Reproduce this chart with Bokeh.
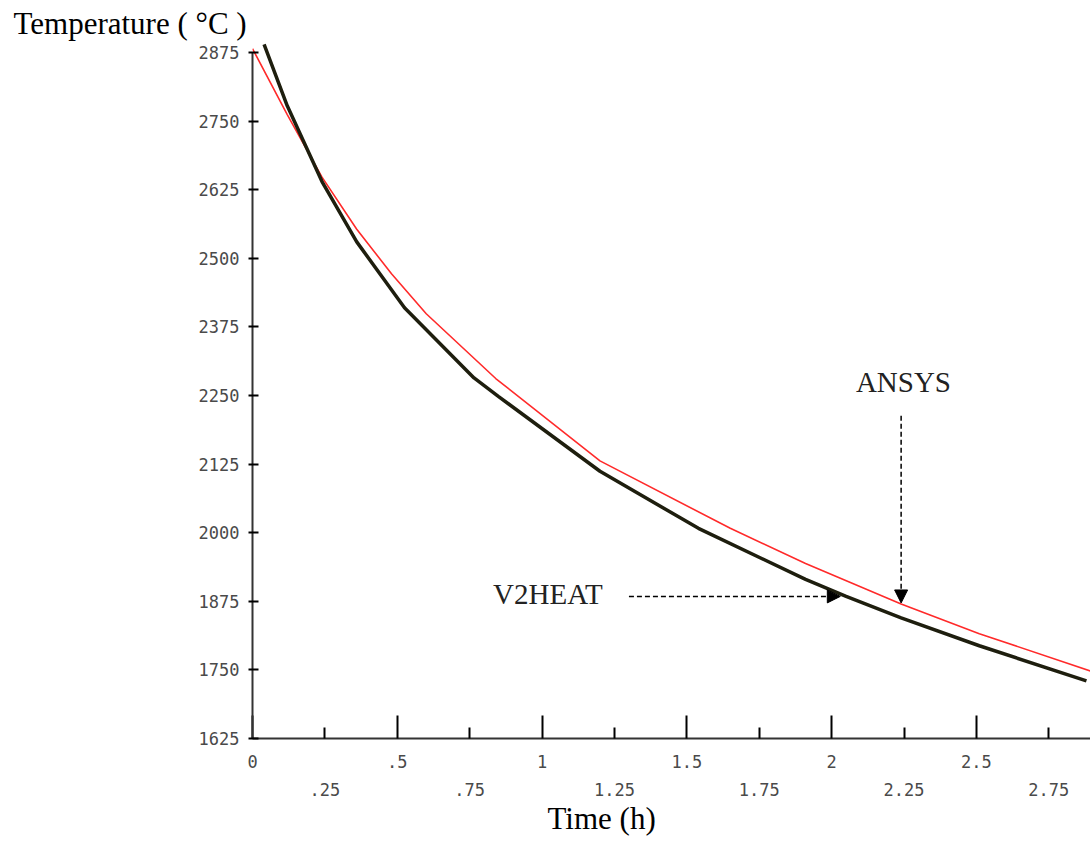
from bokeh.plotting import figure
from bokeh.models import Range1d, LinearAxis, FixedTicker, Label, Arrow, NormalHead, Title
from bokeh.embed import file_html
from bokeh.resources import INLINE

# Cooling curves: time in hours, temperature in degrees C
v2heat_time = [0.04, 0.12, 0.24, 0.36, 0.525, 0.765, 0.85, 1.2, 1.54, 1.91, 2.05, 2.24, 2.51, 2.88]
v2heat_temp = [2890, 2778, 2640, 2530, 2410, 2282, 2248, 2112, 2008, 1915, 1884, 1845, 1794, 1730]

ansys_time = [0.0, 0.12, 0.24, 0.36, 0.48, 0.6, 0.84, 1.2, 1.65, 1.91, 2.24, 2.51, 2.9]
ansys_temp = [2882, 2762, 2648, 2553, 2472, 2399, 2281, 2131, 2008, 1944, 1870, 1816, 1747]

y_ticks = [1625, 1750, 1875, 2000, 2125, 2250, 2375, 2500, 2625, 2750, 2875]
x_ticks_upper = [0, 0.5, 1, 1.5, 2, 2.5]
x_labels_upper = ["0", ".5", "1", "1.5", "2", "2.5"]
x_ticks_lower = [0.25, 0.75, 1.25, 1.75, 2.25, 2.75]
x_labels_lower = [".25", ".75", "1.25", "1.75", "2.25", "2.75"]

TICK_FONT = "DejaVu Sans Mono"
SERIF = "Liberation Serif"

p = figure(width=1090, height=850,
           x_range=Range1d(0, 2.894), y_range=Range1d(1625, 2897),
           output_backend="svg", toolbar_location=None,
           x_axis_location=None, y_axis_location=None,
           min_border_left=252, min_border_right=0,
           min_border_top=40, min_border_bottom=112,
           outline_line_color=None, background_fill_color="white",
           border_fill_color="white")
p.grid.grid_line_color = None

# y-axis title across the top-left corner
p.title = Title(text="Temperature ( \u00b0C )", align="left", offset=-239,
                standoff=0, text_font=SERIF, text_font_size="31px",
                text_font_style="normal", text_color="black")

# vertical axis
yaxis = LinearAxis(ticker=FixedTicker(ticks=y_ticks), bounds=(1625, 2875),
                   axis_line_color="#333333", axis_line_width=2,
                   major_tick_line_color="black", major_tick_line_width=2,
                   major_tick_in=6, major_tick_out=4,
                   minor_tick_in=0, minor_tick_out=0,
                   major_label_text_font=TICK_FONT,
                   major_label_text_font_size="17px",
                   major_label_text_color="#4a4a4a",
                   major_label_standoff=9)
p.add_layout(yaxis, "left")

# horizontal axis: half-hour ticks labelled, quarter ticks shorter
xaxis = LinearAxis(ticker=FixedTicker(ticks=x_ticks_upper, minor_ticks=x_ticks_lower),
                   major_label_overrides=dict(zip(x_ticks_upper, x_labels_upper)),
                   axis_line_color="#333333", axis_line_width=2,
                   major_tick_line_color="black", major_tick_line_width=2,
                   major_tick_in=23, major_tick_out=0,
                   minor_tick_line_color="black", minor_tick_line_width=2,
                   minor_tick_in=11, minor_tick_out=0,
                   major_label_text_font=TICK_FONT,
                   major_label_text_font_size="17px",
                   major_label_text_color="#4a4a4a",
                   major_label_standoff=16)
p.add_layout(xaxis, "below")

# second row of labels for the quarter-hour ticks
xaxis2 = LinearAxis(ticker=FixedTicker(ticks=x_ticks_lower),
                    major_label_overrides=dict(zip(x_ticks_lower, x_labels_lower)),
                    axis_line_color=None, major_tick_line_color=None,
                    minor_tick_line_color=None,
                    major_tick_in=0, major_tick_out=0,
                    minor_tick_in=0, minor_tick_out=0,
                    major_label_text_font=TICK_FONT,
                    major_label_text_font_size="17px",
                    major_label_text_color="#4a4a4a",
                    major_label_standoff=12)
p.add_layout(xaxis2, "below")

# x-axis title
p.add_layout(Title(text="Time (h)", align="left", offset=295, standoff=0,
                   text_font=SERIF, text_font_size="31px",
                   text_font_style="normal", text_color="black"), "below")

# curves
p.line(ansys_time, ansys_temp, line_color="#ff2a2a", line_width=1.6)
p.line(v2heat_time, v2heat_temp, line_color="#1e1e0e", line_width=3.5)

# callouts
p.add_layout(Arrow(end=NormalHead(size=13, fill_color="black", line_color="black"),
                   x_start=1.30, y_start=1884, x_end=2.03, y_end=1884,
                   line_color="black", line_width=1.5, line_dash="5 3"))
p.add_layout(Label(x=1.02, y=1889, text="V2HEAT", text_align="center",
                   text_baseline="middle", text_font=SERIF,
                   text_font_size="29px", text_color="#222222"))

p.add_layout(Arrow(end=NormalHead(size=13, fill_color="black", line_color="black"),
                   x_start=2.24, y_start=2213, x_end=2.24, y_end=1872,
                   line_color="black", line_width=1.5, line_dash="5 3"))
p.add_layout(Label(x=2.248, y=2274, text="ANSYS", text_align="center",
                   text_baseline="middle", text_font=SERIF,
                   text_font_size="29px", text_color="#222222"))

open("out.html", "w").write(file_html(p, INLINE))
